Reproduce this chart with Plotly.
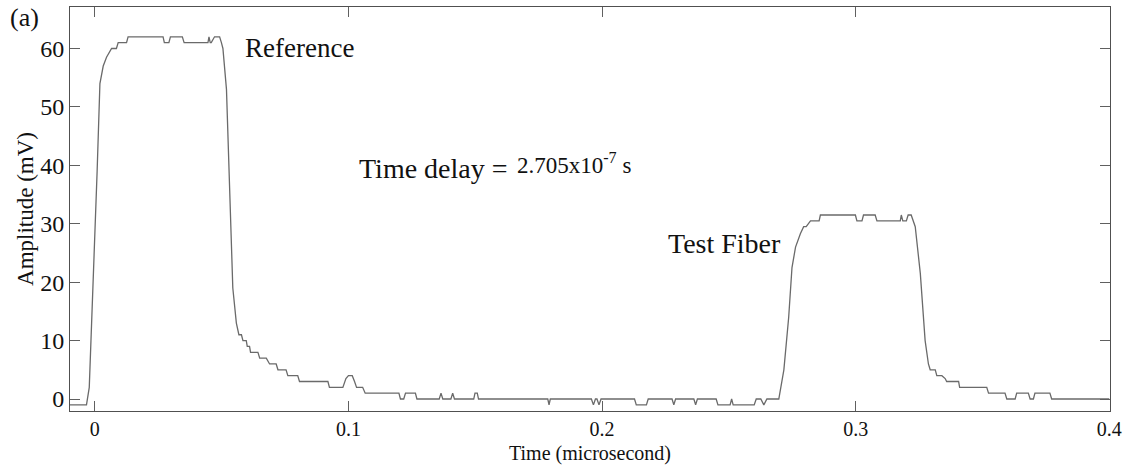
import plotly.graph_objects as go

# Time (microsecond) and amplitude (mV)
time_us = [
    -0.0098, -0.0033, -0.0022, -0.0007, 0.0009, 0.0020, 0.0033, 0.0046, 0.0066, 0.0085,
    0.0092, 0.0125, 0.0131, 0.0269, 0.0274, 0.0292, 0.0298, 0.0306, 0.0345, 0.0352,
    0.0446, 0.0450, 0.0455, 0.0459, 0.0472, 0.0479, 0.0492, 0.0499, 0.0505, 0.0519,
    0.0531, 0.0544, 0.0558, 0.0564, 0.0568, 0.0578, 0.0584, 0.0597, 0.0601, 0.0610,
    0.0614, 0.0643, 0.0650, 0.0676, 0.0689, 0.0715, 0.0722, 0.0754, 0.0761, 0.0800,
    0.0807, 0.0919, 0.0925, 0.0978, 0.0990, 0.1000, 0.1015, 0.1024, 0.1032, 0.1056,
    0.1066, 0.1199, 0.1205, 0.1218, 0.1225, 0.1264, 0.1270,
    0.1358, 0.1365, 0.1372, 0.1404, 0.1411, 0.1418, 0.1494, 0.1499, 0.1508, 0.1513,
    0.1786, 0.1791, 0.1796,
    0.1958, 0.1966, 0.1974, 0.1980, 0.1988, 0.1996,
    0.2128, 0.2135, 0.2175, 0.2182,
    0.2276, 0.2283, 0.2290, 0.2362, 0.2369, 0.2376,
    0.2450, 0.2457, 0.2505, 0.2511, 0.2517, 0.2600, 0.2608, 0.2626, 0.2638, 0.2650,
    0.2689, 0.2697, 0.2717, 0.2736, 0.2749, 0.2763, 0.2782, 0.2795, 0.2805, 0.2822,
    0.2856, 0.2861, 0.2999, 0.3005, 0.3025, 0.3031, 0.3077, 0.3084, 0.3176, 0.3180,
    0.3186, 0.3200, 0.3207, 0.3219, 0.3235, 0.3255, 0.3274, 0.3287, 0.3294, 0.3314,
    0.3320, 0.3340, 0.3353, 0.3359, 0.3406, 0.3410, 0.3517, 0.3524, 0.3589, 0.3596,
    0.3629, 0.3635, 0.3681, 0.3688, 0.3701, 0.3707, 0.3766, 0.3773, 0.4000,
]
amplitude_mV = [
    -1, -1, 2, 19, 39, 54, 57, 58.5, 60, 60,
    61, 61, 62, 62, 61, 61, 62, 62, 62, 61,
    61, 62, 61, 61, 62, 62, 62, 61, 60, 53,
    36, 19, 13, 12, 11, 11, 10, 10, 9, 9,
    8, 8, 7, 7, 6, 6, 5, 5, 4, 4,
    3, 3, 2, 2, 3.5, 4, 4, 3, 2, 2,
    1, 1, 0, 0, 1, 1, 0,
    0, 1, 0, 0, 1, 0, 0, 1, 1, 0,
    0, -1, 0,
    0, -1, 0, 0, -1, 0,
    0, -1, -1, 0,
    0, -1, 0, 0, -1, 0,
    0, -1, -1, 0, -1, -1, 0, 0, -1, 0,
    0, 0, 5, 14, 22.5, 26, 28.3, 29.5, 29.5, 30.5,
    30.5, 31.5, 31.5, 30.5, 30.5, 31.5, 31.5, 30.5, 30.5, 31.5,
    30.5, 30.5, 31.5, 31.5, 29.5, 21.5, 10, 6, 5, 5,
    4, 4, 3.5, 3, 3, 2, 2, 1, 1, 0,
    0, 1, 1, 0, 0, 1, 1, 0, 0,
]

x_ticks = [0, 0.1, 0.2, 0.3, 0.4]
x_tick_text = ["0", "0.1", "0.2", "0.3", "0.4"]
y_ticks = [0, 10, 20, 30, 40, 50, 60]

SERIF = "Liberation Serif, Times New Roman, serif"

fig = go.Figure()
fig.add_trace(go.Scatter(
    x=time_us, y=amplitude_mV, mode="lines",
    line=dict(color="#6a6a6a", width=1.3),
    showlegend=False, hoverinfo="skip",
))

axis_common = dict(
    showline=True, linecolor="#505050", linewidth=1, mirror="allticks",
    ticks="inside", ticklen=10, tickcolor="#606060", tickwidth=1,
    showgrid=False, zeroline=False,
)

fig.update_layout(
    width=1130, height=465,
    margin=dict(l=70, r=20, t=7, b=54, autoexpand=False),
    paper_bgcolor="white", plot_bgcolor="white",
    xaxis=dict(
        range=[-0.0098, 0.4003], tickvals=x_ticks, ticktext=x_tick_text,
        tickfont=dict(family=SERIF, size=20, color="#111"),
        **axis_common,
    ),
    yaxis=dict(
        range=[-2.05, 67.1], tickvals=y_ticks,
        tickfont=dict(family=SERIF, size=24, color="#111"),
        title=dict(text="Amplitude (mV)", standoff=0,
                   font=dict(family=SERIF, size=23, color="#111")),
        **axis_common,
    ),
    annotations=[
        dict(x=0.5, y=-0.1040, xref="paper", yref="paper", text="Time (microsecond)",
             showarrow=False, xanchor="center", yanchor="middle",
             font=dict(family=SERIF, size=20, color="#111")),
        dict(x=0.0583, y=60, xref="x", yref="y", text="Reference", showarrow=False,
             xanchor="left", yanchor="middle", font=dict(family=SERIF, size=27, color="#111")),
        dict(x=0.1035, y=39.5, xref="x", yref="y", text="Time delay =", showarrow=False,
             xanchor="left", yanchor="middle", font=dict(family=SERIF, size=28, color="#111")),
        dict(x=0.1657, y=40.3, xref="x", yref="y", text="2.705x10<sup>-7</sup> s", showarrow=False,
             xanchor="left", yanchor="middle", font=dict(family=SERIF, size=23, color="#111")),
        dict(x=0.2252, y=26.7, xref="x", yref="y", text="Test Fiber", showarrow=False,
             xanchor="left", yanchor="middle", font=dict(family=SERIF, size=28, color="#111")),
        dict(x=-0.0596, y=0.973, xref="paper", yref="paper", text="(a)", showarrow=False,
             xanchor="left", yanchor="middle", font=dict(family=SERIF, size=26, color="#111")),
    ],
)

fig.write_html(
    "out.html",
    config={"displayModeBar": False},
    post_script="document.body.style.margin='0';document.body.style.padding='0';",
)
